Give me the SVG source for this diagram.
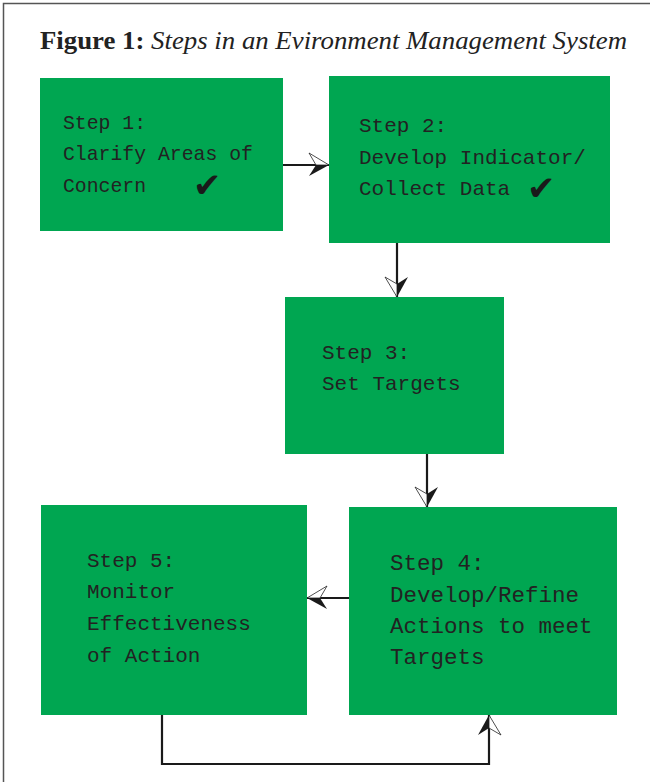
<svg xmlns="http://www.w3.org/2000/svg" width="650" height="782" viewBox="0 0 650 782">
<style>
.box{fill:#00A651;}
.t{font-family:"Liberation Mono","Courier New",monospace;font-size:21px;fill:#222;}
.t1{font-size:19.8px;}
.t4{font-size:22.5px;}
.chk{font-family:"DejaVu Sans",sans-serif;font-size:34px;fill:#1a1a1a;}
.c{fill:none;stroke:#1a1a1a;stroke-width:2.2;}
</style>
<defs>
<marker id="mA" markerUnits="userSpaceOnUse" orient="auto" viewBox="-22 -14 24 28" refX="0" refY="0" markerWidth="24" markerHeight="28" overflow="visible">
<path d="M0,0 L-20,-12 L-13,0 Z" fill="#fff" stroke="#222" stroke-width="0.8"/>
<path d="M0,0 L-20,11 L-13,0 Z" fill="#1a1a1a"/>
</marker>
<marker id="mB" markerUnits="userSpaceOnUse" orient="auto" viewBox="-22 -14 24 28" refX="0" refY="0" markerWidth="24" markerHeight="28" overflow="visible">
<path d="M0,0 L-20,12 L-13,0 Z" fill="#fff" stroke="#222" stroke-width="0.8"/>
<path d="M0,0 L-20,-11 L-13,0 Z" fill="#1a1a1a"/>
</marker>
</defs>
<rect width="650" height="782" fill="#fff"/>
<path d="M3.5,782 V3.5 H650" fill="none" stroke="#555" stroke-width="1.5"/>
<text x="40" y="49" font-family="Liberation Serif,'Times New Roman',serif" font-size="25.5" fill="#222" textLength="587" lengthAdjust="spacingAndGlyphs"><tspan font-weight="bold">Figure 1:</tspan> <tspan font-style="italic">Steps in an Evironment Management System</tspan></text>
<g id="connectors">
<path class="c" d="M283,165 H329" marker-end="url(#mA)"/>
<path class="c" d="M397,243 V297" marker-end="url(#mB)"/>
<path class="c" d="M427,454 V507" marker-end="url(#mB)"/>
<path class="c" d="M349,598 H307" marker-end="url(#mB)"/>
<path class="c" d="M162,715 V764 H489 V715" marker-end="url(#mB)"/>
</g>
<g id="step1">
<rect class="box" x="40" y="78" width="243" height="153"/>
<text class="t t1" x="63" y="129">Step 1:</text>
<text class="t t1" x="63" y="160">Clarify Areas of</text>
<text class="t t1" x="63" y="192">Concern</text>
<text class="chk" x="193" y="197">✔</text>
</g>
<g id="step2">
<rect class="box" x="329" y="76" width="281" height="167"/>
<text class="t" x="359" y="132">Step 2:</text>
<text class="t" x="359" y="164">Develop Indicator/</text>
<text class="t" x="359" y="195">Collect Data</text>
<text class="chk" x="527" y="200">✔</text>
</g>
<g id="step3">
<rect class="box" x="285" y="297" width="219" height="157"/>
<text class="t" x="322" y="359">Step 3:</text>
<text class="t" x="322" y="390">Set Targets</text>
</g>
<g id="step4">
<rect class="box" x="349" y="507" width="268" height="208"/>
<text class="t t4" x="390" y="570">Step 4:</text>
<text class="t t4" x="390" y="602">Develop/Refine</text>
<text class="t t4" x="390" y="633">Actions to meet</text>
<text class="t t4" x="390" y="664">Targets</text>
</g>
<g id="step5">
<rect class="box" x="41" y="505" width="266" height="210"/>
<text class="t" x="87" y="567">Step 5:</text>
<text class="t" x="87" y="598">Monitor</text>
<text class="t" x="87" y="630">Effectiveness</text>
<text class="t" x="87" y="662">of Action</text>
</g>
</svg>
